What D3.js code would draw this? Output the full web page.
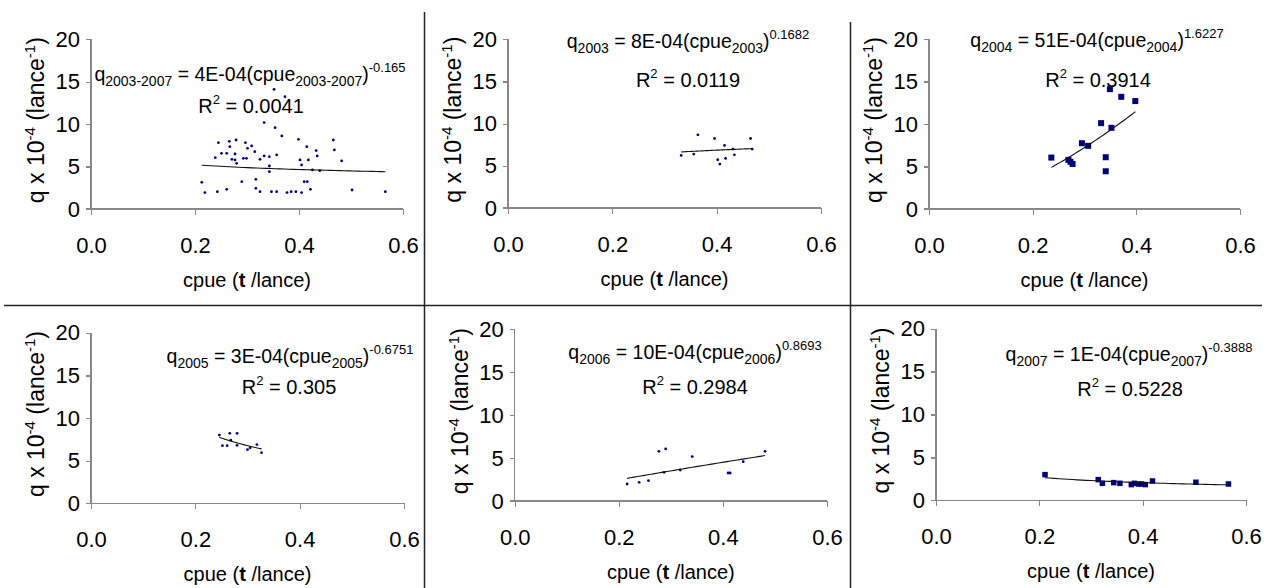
<html>
<head>
<meta charset="utf-8">
<script src="https://cdn.jsdelivr.net/npm/d3@7"></script>
<style>
body { margin: 0; background: #fff; }
text { font-family: "Liberation Sans", Arial, sans-serif; fill: #000; }
.axis path, .axis line { stroke: #888; stroke-width: 1.3; shape-rendering: crispEdges; }
</style>
</head>
<body>
<svg id="chart" width="1266" height="588"></svg>
<script>
// ---- data ----
const xTicks = [0, 0.2, 0.4, 0.6];
const yTicks = [0, 5, 10, 15, 20];
const years = ["2003-2007", "2003", "2004", "2005", "2006", "2007"];
const coefLabel = ["4E-04", "8E-04", "51E-04", "3E-04", "10E-04", "1E-04"];
const coefA = [4, 8, 51, 3, 10, 1.44];          // q x 10^-4
const expB = [-0.165, 0.1682, 1.6227, -0.6751, 0.8693, -0.3888];
const rSquared = ["0.0041", "0.0119", "0.3914", "0.305", "0.2984", "0.5228"];

const cpueAll = [0.213,0.219,0.239,0.245,0.243,0.251,0.261,0.261,0.266,0.267,0.271,0.277,0.279,0.277,0.280,
  0.290,0.293,0.297,0.299,0.301,0.309,0.315,0.317,0.317,0.325,0.325,0.333,0.333,0.343,0.343,0.343,0.347,
  0.352,0.354,0.357,0.357,0.367,0.373,0.377,0.385,0.394,0.399,0.405,0.405,0.402,0.410,0.416,0.415,0.418,
  0.422,0.426,0.433,0.435,0.440,0.466,0.468,0.482,0.502,0.566];
const qAll = [3.14,1.93,6.05,7.82,2.04,6.56,6.56,2.32,7.98,7.35,5.85,6.48,8.13,5.78,5.38,
  3.22,5.97,7.82,5.97,7.15,7.43,6.76,3.50,2.44,5.85,2.04,10.18,6.25,6.17,5.07,4.40,2.04,
  14.1,9.59,6.37,2.04,8.61,13.24,1.93,2.04,2.04,8.21,1.93,5.19,5.78,3.22,3.22,7.35,5.78,
  2.32,4.60,6.88,6.25,4.52,8.13,6.96,5.66,2.24,2.04];

const cpue2003 = [0.332,0.356,0.364,0.396,0.402,0.406,0.415,0.417,0.431,0.434,0.465,0.468];
const q2003 = [6.23,6.39,8.68,8.24,5.72,5.21,7.42,5.88,6.98,6.31,8.24,6.98];

const cpue2004 = [0.236,0.269,0.273,0.277,0.295,0.307,0.332,0.341,0.341,0.349,0.352,0.371,0.398];
const q2004 = [6.05,5.78,5.55,5.30,7.74,7.43,10.10,6.09,4.44,14.1,9.55,13.2,12.7];

const cpue2005 = [0.246,0.266,0.280,0.252,0.261,0.268,0.280,0.300,0.305,0.318,0.327];
const q2005 = [8.0,8.2,8.2,6.75,6.75,7.4,6.8,6.29,6.5,6.88,5.94];

const cpue2006 = [0.216,0.239,0.257,0.277,0.290,0.287,0.318,0.341,0.410,0.414,0.439,0.481];
const q2006 = [1.98,2.17,2.37,5.79,6.06,3.34,3.61,5.17,3.26,3.26,4.58,5.79];

const cpue2007 = [0.211,0.314,0.322,0.344,0.356,0.378,0.384,0.392,0.398,0.405,0.419,0.503,0.566];
const q2007 = [2.99,2.41,1.98,2.06,1.98,1.83,1.98,1.90,1.90,1.83,2.25,2.10,1.90];

const cpueSets = [cpueAll, cpue2003, cpue2004, cpue2005, cpue2006, cpue2007];
const qSets = [qAll, q2003, q2004, q2005, q2006, q2007];

// ---- layout ----
const panels = [
  {x0: 91,    x1: 403,  yT: 39.3,  yB: 209,   eq: [250, 81],   r2: [251, 113],  marker: "dot"},
  {x0: 508,   x1: 821,  yT: 39.3,  yB: 208,   eq: [688, 48],   r2: [688, 87],   marker: "dot"},
  {x0: 929,   x1: 1240, yT: 39,    yB: 209,   eq: [1097, 47],  r2: [1098, 87],  marker: "sq", s: 6},
  {x0: 91,    x1: 404,  yT: 332.7, yB: 503.3, eq: [290, 363],  r2: [289, 394],  marker: "dot"},
  {x0: 514.7, x1: 827,  yT: 329.3, yB: 501,   eq: [695, 359],  r2: [695, 394],  marker: "dot"},
  {x0: 936,   x1: 1246, yT: 328.7, yB: 500.3, eq: [1129, 361], r2: [1130, 396], marker: "sq", s: 5.5}
];

const svg = d3.select("#chart");
const navy = "#000080";

// panel dividers
svg.append("line").attr("x1", 4).attr("x2", 1262).attr("y1", 305.5).attr("y2", 305.5)
  .attr("stroke", "#222").attr("stroke-width", 1.5);
svg.append("line").attr("x1", 424.5).attr("x2", 424.5).attr("y1", 12).attr("y2", 588)
  .attr("stroke", "#222").attr("stroke-width", 1.5);
svg.append("line").attr("x1", 850.5).attr("x2", 850.5).attr("y1", 22).attr("y2", 588)
  .attr("stroke", "#222").attr("stroke-width", 1.5);

panels.forEach(function(p, i) {
  const x = d3.scaleLinear().domain([0, 0.6]).range([p.x0, p.x1]);
  const y = d3.scaleLinear().domain([0, 20]).range([p.yB, p.yT]);
  const g = svg.append("g");

  const yAxis = d3.axisLeft(y).tickValues(yTicks).tickSize(5).tickSizeOuter(0).tickPadding(6)
    .tickFormat(d3.format("d"));
  const xAxis = d3.axisBottom(x).tickValues(xTicks).tickSize(6).tickSizeOuter(0).tickPadding(22)
    .tickFormat(d3.format(".1f"));

  const ya = g.append("g").attr("class", "axis").attr("transform", "translate(" + p.x0 + ",0)").call(yAxis);
  const xa = g.append("g").attr("class", "axis").attr("transform", "translate(0," + p.yB + ")").call(xAxis);
  ya.selectAll("text").style("font-size", "22px").attr("fill", "#000");
  xa.selectAll("text").style("font-size", "22px").attr("fill", "#000");
  ya.select(".domain").attr("d", "M0," + p.yB + "V" + p.yT);
  xa.select(".domain").attr("d", "M" + (p.x0 - 5) + ",0H" + p.x1);

  // points
  const pts = d3.zip(cpueSets[i], qSets[i]);
  if (p.marker === "dot") {
    g.selectAll("circle.pt").data(pts).enter().append("circle")
      .attr("cx", d => x(d[0])).attr("cy", d => y(d[1])).attr("r", 1.4).attr("fill", navy);
  } else {
    g.selectAll("rect.pt").data(pts).enter().append("rect")
      .attr("x", d => x(d[0]) - p.s / 2).attr("y", d => y(d[1]) - p.s / 2)
      .attr("width", p.s).attr("height", p.s).attr("fill", navy);
  }

  // power trend line
  const ext = d3.extent(cpueSets[i]);
  const xs = d3.range(ext[0], ext[1], (ext[1] - ext[0]) / 40).concat([ext[1]]);
  const line = d3.line().x(d => x(d)).y(d => y(coefA[i] * Math.pow(d, expB[i])));
  g.append("path").attr("d", line(xs)).attr("fill", "none").attr("stroke", "#111").attr("stroke-width", 1.1);

  // axis titles
  const xt = g.append("text").attr("x", (p.x0 + p.x1) / 2).attr("y", p.yB + 78)
    .attr("text-anchor", "middle").style("font-size", "20px");
  xt.append("tspan").text("cpue (");
  xt.append("tspan").text("t").style("font-weight", "bold");
  xt.append("tspan").text(" /lance)");

  const yt = g.append("text").attr("text-anchor", "middle").style("font-size", "23px")
    .attr("transform", "translate(" + (p.x0 - 47) + "," + ((p.yB + p.yT) / 2 - 4) + ") rotate(-90)");
  yt.append("tspan").text("q x 10");
  yt.append("tspan").text("-4").style("font-size", "15px").attr("dy", -9);
  yt.append("tspan").text(" (lance").attr("dy", 9);
  yt.append("tspan").text("-1").style("font-size", "15px").attr("dy", -9);
  yt.append("tspan").text(")").attr("dy", 9);

  // equation
  const eq = g.append("text").attr("x", p.eq[0]).attr("y", p.eq[1])
    .attr("text-anchor", "middle").style("font-size", "19.5px").attr("fill", "#111");
  eq.append("tspan").text("q");
  eq.append("tspan").text(years[i]).style("font-size", "14px").attr("dy", 5);
  eq.append("tspan").text(" = " + coefLabel[i] + "(cpue").attr("dy", -5);
  eq.append("tspan").text(years[i]).style("font-size", "14px").attr("dy", 5);
  eq.append("tspan").text(")").attr("dy", -5);
  eq.append("tspan").text(String(expB[i])).style("font-size", "13px").attr("dy", -9);

  const r2 = g.append("text").attr("x", p.r2[0]).attr("y", p.r2[1])
    .attr("text-anchor", "middle").style("font-size", "20px").attr("fill", "#111");
  r2.append("tspan").text("R");
  r2.append("tspan").text("2").style("font-size", "13px").attr("dy", -9);
  r2.append("tspan").text(" = " + rSquared[i]).attr("dy", 9);
});
</script>
</body>
</html>
